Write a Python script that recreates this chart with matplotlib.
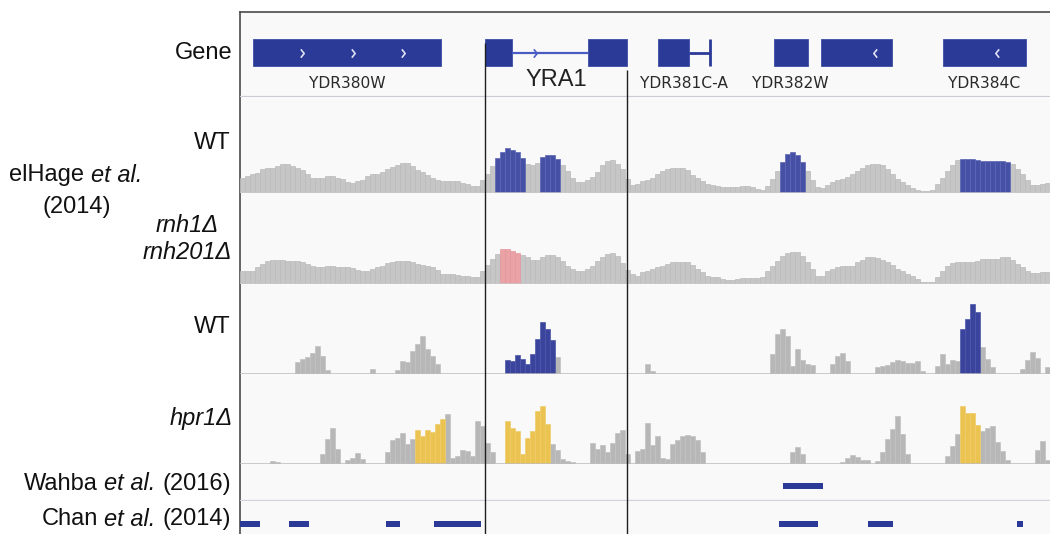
import numpy as np
import matplotlib
matplotlib.use("Agg")
import matplotlib.pyplot as plt
from matplotlib.path import Path

plt.rcParams["font.family"] = ["Liberation Sans", "DejaVu Sans"]

# ---------------------------------------------------------------- data
# genomic window expressed in 162 coverage bins
n_bins = 162

gene_names = ["YDR380W", "YRA1", "YDR381C-A", "YDR382W", "YDR383C", "YDR384C"]
gene_blocks = [[(2.6, 40.2)],
               [(49.0, 54.4), (69.6, 77.4)],
               [(83.5, 89.8)],
               [(106.8, 113.5)],
               [(116.2, 130.4)],
               [(140.6, 157.2)]]
gene_thin = [[], [(54.4, 69.6)], [(89.8, 94.0)], [], [], []]
gene_strand = ["+", "+", "-", "+", "-", "-"]
gene_arrows = [[12.4, 22.6, 32.6], [59.0], [], [], [127.0], [151.4]]
gene_label_shown = [True, False, True, True, False, True]
focus_gene = "YRA1"

# elHage et al. (2014) DRIP-chip, WT
elhage_wt = [15, 17, 19, 20, 24, 25, 25, 27, 29, 29, 27, 25, 23, 19, 15, 15, 15, 17, 17, 15,
             14, 11, 10, 12, 13, 17, 19, 19, 21, 24, 26, 28, 30, 30, 27, 23, 21, 18, 15, 13,
             12, 12, 12, 12, 10, 9, 7, 7, 13, 19, 27, 35, 41, 45, 43, 41, 35, 29, 28, 30,
             36, 38, 38, 34, 28, 22, 15, 11, 11, 13, 16, 21, 28, 32, 33, 29, 24, 14, 8,
             9, 12, 13, 15, 19, 22, 24, 25, 25, 25, 23, 18, 15, 12, 9, 8, 7, 6, 6, 6,
             6, 7, 7, 6, 4, 3, 7, 14, 22, 31, 39, 41, 38, 31, 22, 13, 6, 5, 8, 11,
             13, 14, 16, 19, 22, 25, 28, 29, 29, 28, 24, 19, 14, 11, 8, 5, 3, 2, 2, 3,
             9, 15, 22, 28, 33, 34, 34, 34, 33, 32, 32, 32, 32, 32, 31, 29, 24, 19, 13, 8,
             8, 9, 10]
elhage_wt_peaks = [(51, 56), (60, 63), (108, 112), (144, 153)]

# elHage et al. (2014), rnh1Δ rnh201Δ
elhage_rnh = [13, 13, 13, 17, 20, 23, 24, 24, 24, 23, 23, 23, 22, 20, 18, 17, 17, 18, 18, 17,
              17, 17, 16, 14, 13, 13, 15, 17, 18, 21, 22, 23, 23, 23, 22, 20, 19, 18, 17, 14,
              10, 10, 10, 9, 8, 8, 7, 7, 13, 19, 25, 30, 35, 35, 33, 31, 29, 27, 24, 24,
              27, 29, 29, 27, 23, 18, 15, 13, 13, 15, 18, 23, 27, 30, 31, 28, 21,
              14, 10, 8, 12, 13, 15, 17, 18, 20, 22, 22, 22, 22, 19, 15, 12, 8, 7, 7, 5,
              4, 4, 5, 6, 6, 6, 6, 7, 13, 18, 23, 28, 31, 32, 32, 28, 22, 15, 8, 8,
              13, 15, 17, 18, 18, 18, 22, 24, 27, 27, 26, 24, 22, 19, 15, 13, 10, 8, 5, 2,
              2, 2, 7, 13, 18, 21, 22, 22, 22, 22, 23, 25, 25, 25, 25, 27, 27, 24, 20, 17,
              13, 11, 11, 12, 12]
elhage_rnh_peaks = [(52, 55)]

# DRIP-seq, WT
drip_wt = [0, 0, 0, 0, 0, 0, 0, 0, 0, 0,
           0, 12, 15, 17, 21, 28, 18, 4, 0, 0,
           0, 0, 0, 0, 0, 0, 5, 0, 0, 0,
           0, 4, 13, 12, 23, 30, 38, 25, 18, 10,
           0, 0, 0, 0, 0, 0, 0, 0, 0, 0,
           0, 0, 0, 14, 13, 19, 15, 10, 20, 35,
           52, 45, 34, 17, 0, 0, 0, 0, 0, 0,
           0, 0, 0, 0, 0, 0, 0, 0, 0, 0,
           0, 10, 3, 0, 0, 0, 0, 0, 0, 0,
           0, 0, 0, 0, 0, 0, 0, 0, 0, 0,
           0, 0, 0, 0, 0, 0, 20, 40, 45, 38,
           8, 25, 14, 10, 9, 0, 0, 0, 10, 18,
           21, 13, 0, 0, 0, 0, 0, 7, 8, 9,
           12, 14, 13, 11, 11, 13, 3, 0, 0, 8,
           20, 10, 14, 13, 45, 55, 70, 62, 27, 15,
           7, 0, 0, 0, 0, 0, 5, 14, 22, 16,
           0, 7]
drip_wt_peaks = [(53, 62), (144, 147)]

# DRIP-seq, hpr1Δ
drip_hpr1 = [0, 0, 0, 0, 0, 0, 3, 2, 0, 0,
             0, 0, 0, 0, 0, 0, 10, 25, 36, 15,
             0, 4, 6, 11, 5, 0, 0, 0, 0, 12,
             24, 26, 31, 20, 25, 34, 28, 34, 32, 40,
             45, 50, 6, 8, 14, 13, 8, 43, 38, 21,
             12, 0, 0, 43, 36, 33, 10, 26, 33, 53,
             58, 40, 20, 14, 5, 3, 2, 0, 0, 0,
             21, 15, 19, 12, 21, 31, 34, 10, 0, 13,
             15, 41, 19, 28, 6, 5, 20, 24, 28, 29,
             28, 24, 12, 0, 0, 0, 0, 0, 0, 0,
             0, 0, 0, 0, 0, 0, 0, 0, 0, 0,
             12, 17, 10, 0, 0, 0, 0, 0, 0, 0,
             2, 6, 9, 7, 4, 4, 0, 3, 12, 25,
             35, 48, 30, 10, 0, 0, 0, 0, 0, 0,
             0, 8, 18, 30, 58, 51, 51, 39, 33, 36,
             38, 22, 13, 4, 0, 0, 0, 0, 0, 14,
             23, 4]
drip_hpr1_peaks = [(35, 40), (53, 61), (144, 147)]

# R-loop regions from other studies
wahba_regions = [(108.6, 116.6)]
chan_regions = [(0.0, 4.0), (9.8, 13.8), (29.2, 32.0), (38.8, 48.2),
                (107.8, 115.6), (125.6, 130.6), (155.4, 156.6)]

# track labels: runs of (text, font style); " " marks a word gap
label_gene = [("Gene", "normal")]
label_wt = [("WT", "normal")]
label_study1 = [("elHage", "normal"), (" ", None), ("et al.", "italic")]
label_study1_year = [("(2014)", "normal")]
label_rnh1 = [("rnh1Δ", "italic")]
label_rnh201 = [("rnh201Δ", "italic")]
label_hpr1 = [("hpr1Δ", "italic")]
label_wahba = [("Wahba", "normal"), (" ", None), ("et al.", "italic"), (" ", None), ("(2016)", "normal")]
label_chan = [("Chan", "normal"), (" ", None), ("et al.", "italic"), (" ", None), ("(2014)", "normal")]

# ---------------------------------------------------------------- layout
W, H = 1050, 534
fig = plt.figure(figsize=(W / 100, H / 100), dpi=100)
fig.patch.set_facecolor("white")
renderer = fig.canvas.get_renderer()

NAVY = "#2b3a97"
LABEL_SIZE = 17


def add_ax(top, bottom, left=240, right=1050):
    ax = fig.add_axes([left / W, 1 - bottom / H, (right - left) / W, (bottom - top) / H])
    ax.set_xlim(0, n_bins)
    ax.set_xticks([])
    ax.set_yticks([])
    for s in ax.spines.values():
        s.set_visible(False)
    ax.patch.set_alpha(0)
    return ax


def text_width(s, style):
    t = fig.text(0, 0, s, size=LABEL_SIZE, style=style)
    w = t.get_window_extent(renderer).width
    t.remove()
    return w


SPACE_W = text_width("x x", "normal") - text_width("xx", "normal")


def rich_label(px, py, runs, ha="right"):
    widths = [SPACE_W if style is None else text_width(s, style) for s, style in runs]
    total = sum(widths)
    x = px - total if ha == "right" else px - total / 2
    for (s, style), w in zip(runs, widths):
        if style is not None:
            fig.text(x / W, 1 - py / H, s, ha="left", va="center", size=LABEL_SIZE,
                     style=style, color="#111111")
        x += w


# panel background with top/left frame
bg = add_ax(12, 534)
bg.patch.set_alpha(1)
bg.set_facecolor("#f9f9f9")
for side in ("top", "left"):
    bg.spines[side].set_visible(True)
    bg.spines[side].set_color("#4a4a4a")
    bg.spines[side].set_linewidth(1.2)

# ---------------------------------------------------------------- gene track
gax = add_ax(12, 97)
gax.set_ylim(85, 0)
row_y, row_h = 40.7, 27
chev_r = Path([(-0.4, 1), (0.4, 0), (-0.4, -1)], [Path.MOVETO, Path.LINETO, Path.LINETO])
chev_l = Path([(0.4, 1), (-0.4, 0), (0.4, -1)], [Path.MOVETO, Path.LINETO, Path.LINETO])
for name, blocks, thin, strand, arrows, shown in zip(gene_names, gene_blocks, gene_thin,
                                                     gene_strand, gene_arrows, gene_label_shown):
    for a, b in blocks:
        gax.barh(row_y, b - a, left=a, height=row_h, color=NAVY, edgecolor="#3e4da8", linewidth=0.6)
    for a, b in thin:
        if name == focus_gene:
            gax.hlines(row_y, a, b, color="#4a5cc4", lw=1.6)
        else:
            gax.hlines(row_y, a, b, color=NAVY, lw=2.0)
            gax.vlines(b, row_y - row_h / 2, row_y + row_h / 2, color=NAVY, lw=2.0)
    inside = [x for x in arrows if any(a <= x <= b for a, b in blocks)]
    outside = [x for x in arrows if x not in inside]
    mk = chev_r if strand == "+" else chev_l
    if inside:
        gax.plot(inside, [row_y] * len(inside), ls="none", marker=mk, ms=6,
                 mfc="none", mec="#dfe2f2", mew=1.2)
    if outside:
        gax.plot(outside, [row_y] * len(outside), ls="none", marker=mk, ms=6,
                 mfc="none", mec="#4a5cc4", mew=1.2)
    if shown:
        a0 = min(a for a, _ in blocks + thin)
        b0 = max(b for _, b in blocks + thin)
        gax.text((a0 + b0) / 2, 71.5, name, ha="center", va="center", size=11.2,
                 family="DejaVu Sans", color="#2a2a2a")
gax.axhline(85, color="#c9ccd8", lw=1.6)

fi = gene_names.index(focus_gene)
f_start = min(a for a, _ in gene_blocks[fi])
f_end = max(b for _, b in gene_blocks[fi])
gax.text((f_start + f_end) / 2, 68, focus_gene, ha="center", va="center", size=17, color="#222222")


# ---------------------------------------------------------------- coverage tracks
def coverage(top, bottom, values, peaks, base, hi, base_edge, hi_edge, line_col):
    ax = add_ax(top, bottom)
    ax.set_ylim(0, bottom - top)
    vals = np.asarray(values, dtype=float)
    x = np.arange(len(vals))
    mask = np.zeros(len(vals), bool)
    for a, b in peaks:
        mask[a:b + 1] = True
    ax.bar(x[~mask], vals[~mask], width=1.0, align="edge", color=base,
           edgecolor=base_edge, linewidth=0.5)
    ax.bar(x[mask], vals[mask], width=1.0, align="edge", color=hi,
           edgecolor=hi_edge, linewidth=0.5)
    ax.axhline(0, color=line_col, lw=1.8)
    return ax


coverage(97, 193, elhage_wt, elhage_wt_peaks, "#c6c6c6", "#4651a6", "#bababa", "#5b65b3", "#c9c9c9")
coverage(193, 284, elhage_rnh, elhage_rnh_peaks, "#c6c6c6", "#eba2a4", "#bababa", "#e397a0", "#c9c9c9")
coverage(284, 374, drip_wt, drip_wt_peaks, "#b7b7b7", "#3b449c", "#c2c2c2", "#4c55a8", "#bdbdbd")
coverage(374, 464, drip_hpr1, drip_hpr1_peaks, "#b7b7b7", "#ebc350", "#c2c2c2", "#efcd6a", "#bdbdbd")

# ---------------------------------------------------------------- region tracks
wax = add_ax(464, 501)
wax.set_ylim(37, 0)
for a, b in wahba_regions:
    wax.barh(22, b - a, left=a, height=6, color=NAVY)
wax.axhline(37, color="#cfd2da", lw=1.6)

cax = add_ax(501, 534)
cax.set_ylim(33, 0)
for a, b in chan_regions:
    cax.barh(23, b - a, left=a, height=6, color=NAVY)

# gene boundary guides drawn above all tracks
ov = add_ax(12, 534)
ov.set_ylim(522, 0)
ov.vlines(f_start, 31, 522, color="#1e1e1e", lw=1.0)
ov.vlines(f_end - 0.1, 58, 522, color="#1e1e1e", lw=1.0)

# ---------------------------------------------------------------- track labels
rich_label(232, 53, label_gene)
rich_label(231, 143, label_wt)
rich_label(76, 175, label_study1, ha="center")
rich_label(77, 207, label_study1_year, ha="center")
rich_label(187.5, 225, label_rnh1, ha="center")
rich_label(187.5, 253, label_rnh201, ha="center")
rich_label(231, 327, label_wt)
rich_label(233, 419, label_hpr1)
rich_label(231, 484, label_wahba)
rich_label(231, 519, label_chan)

fig.savefig("out.png", dpi=100, facecolor="white")
